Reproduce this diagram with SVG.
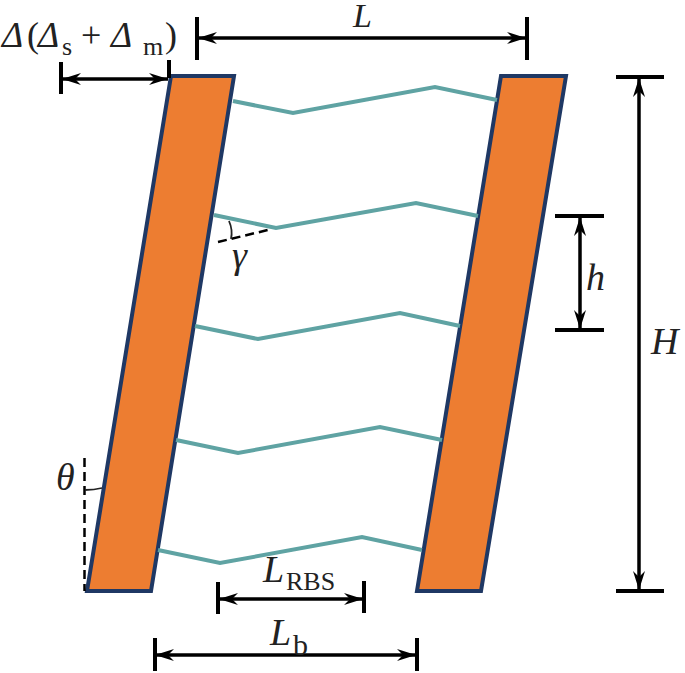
<svg xmlns="http://www.w3.org/2000/svg" width="685" height="673" viewBox="0 0 685 673">
<style>
.wall{fill:#ed7d31;stroke:#1f3864;stroke-width:4;stroke-linejoin:miter}
.beam{fill:none;stroke:#5fa3a3;stroke-width:4}
.dim{fill:none;stroke:#000;stroke-width:3.500}
.tick{fill:none;stroke:#000;stroke-width:4}
.dash{fill:none;stroke:#000;stroke-width:2.500;stroke-dasharray:9 5}
.thin{fill:none;stroke:#222;stroke-width:1.800}
text{font-family:"Liberation Serif","Times New Roman",serif;fill:#222}
.it{font-style:italic}
</style>
<defs>
<marker id="a" viewBox="0 0 20 14" refX="19" refY="7" markerWidth="20" markerHeight="14" markerUnits="userSpaceOnUse" orient="auto-start-reverse">
<path d="M0 1 L19 7 L0 13 L6 7 Z" fill="#000"/>
</marker>
</defs>
<g id="wall-left"><polygon class="wall" points="171,76 234,76 151,591 87,591"/></g>
<g id="wall-right"><polygon class="wall" points="501,76 566,76 481,591 417,591"/></g>
<g id="connectors">
<polyline class="beam" points="233,101 293,113 435,87 497,100"/>
<polyline class="beam" points="214,215 276,228 416,203 478,216"/>
<polyline class="beam" points="195,326 258,339 400,313 460,326"/>
<polyline class="beam" points="176,440 238,453 380,427 442,440"/>
<polyline class="beam" points="158,550 220,563 362,537 422,550"/>
<path class="dash" d="M218,242 L272,229"/>
<path class="thin" d="M229,221 Q233,230 231,239"/>
<path class="dash" d="M84.500,458 V591"/>
<path class="thin" d="M85,490 Q94,490 102,488"/>
<path class="tick" d="M197,17 V60 M527,17 V60 M61,62 V94 M169,60 V78 M155,638 V671 M417,638 V671 M218,582 V614 M364,581 V613 M616,77 H664 M555,216 H604 M555,330 H604 M616,591 H664"/>
<path class="dim" d="M198,38 H526" marker-start="url(#a)" marker-end="url(#a)"/>
<path class="dim" d="M62,79 H168" marker-start="url(#a)" marker-end="url(#a)"/>
<path class="dim" d="M155,655 H416" marker-start="url(#a)" marker-end="url(#a)"/>
<path class="dim" d="M219,599 H363" marker-start="url(#a)" marker-end="url(#a)"/>
<path class="dim" d="M639,78 V590" marker-start="url(#a)" marker-end="url(#a)"/>
<path class="dim" d="M580,217 V329" marker-start="url(#a)" marker-end="url(#a)"/>
</g>
<g id="labels">
<text y="47" font-size="36"><tspan class="it" x="2">Δ</tspan><tspan x="27">(</tspan><tspan class="it" x="38">Δ</tspan><tspan font-size="26" x="62" y="55">s</tspan><tspan x="81" y="47">+</tspan><tspan class="it" x="111">Δ</tspan><tspan font-size="26" x="143" y="55">m</tspan><tspan x="165" y="47">)</tspan></text>
<text x="353" y="27" font-size="34" class="it">L</text>
<text x="232" y="268" font-size="38" class="it">γ</text>
<text x="586" y="290" font-size="38" class="it">h</text>
<text x="651" y="354" font-size="38" class="it">H</text>
<text x="56" y="490" font-size="38" class="it">θ</text>
<text x="263" y="582" font-size="38"><tspan class="it">L</tspan><tspan font-size="26" x="286" y="590">RBS</tspan></text>
<text x="270" y="645" font-size="38"><tspan class="it">L</tspan><tspan font-size="30" x="293" y="655">b</tspan></text>
</g>
</svg>
